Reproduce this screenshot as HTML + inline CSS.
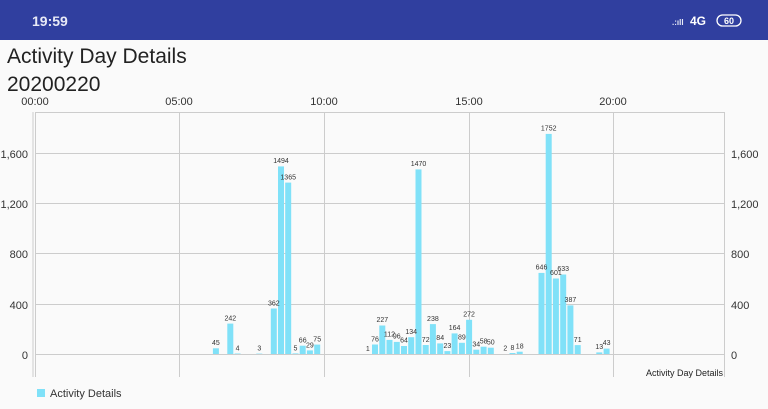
<!DOCTYPE html><html><head><meta charset="utf-8"><style>
body{margin:0;width:768px;height:404px;background:#fafafa;overflow:hidden;font-family:"Liberation Sans",sans-serif}
</style></head><body>
<svg width="768" height="404" xmlns="http://www.w3.org/2000/svg" font-family="Liberation Sans, sans-serif">
<rect width="768" height="404" fill="#fafafa"/>
<rect width="768" height="40" fill="#303f9f"/>
<text x="32" y="26" fill="#e8eaf6" font-size="14" font-weight="bold">19:59</text>
<text x="672" y="25" fill="#e8eaf6" font-size="8" font-weight="bold">.:ıll</text>
<text x="690" y="25" fill="#fff" font-size="12" font-weight="bold">4G</text>
<rect x="717" y="15" width="24" height="11" rx="5.5" fill="none" stroke="#fff" stroke-width="1.3"/>
<text x="729" y="24" fill="#fff" font-size="9" font-weight="bold" text-anchor="middle">60</text>
<text x="7" y="63" fill="#222" font-size="21">Activity Day Details</text>
<text x="7" y="91" fill="#222" font-size="21">20200220</text>
<g font-size="11" fill="#333" text-anchor="middle">
<text x="35" y="105">00:00</text><text x="179" y="105">05:00</text><text x="324" y="105">10:00</text><text x="469" y="105">15:00</text><text x="613" y="105">20:00</text>
</g>
<g stroke="#ccc" stroke-width="1">
<line x1="33" y1="112" x2="33" y2="377"/><line x1="35.5" y1="112" x2="35.5" y2="377"/>
<line x1="179.5" y1="112" x2="179.5" y2="377"/><line x1="324.5" y1="112" x2="324.5" y2="377"/>
<line x1="469.5" y1="112" x2="469.5" y2="377"/><line x1="613.5" y1="112" x2="613.5" y2="377"/>
<line x1="724.5" y1="112" x2="724.5" y2="377"/>
<line x1="35" y1="112.5" x2="724" y2="112.5"/>
<line x1="35" y1="153.5" x2="724" y2="153.5"/><line x1="35" y1="203.5" x2="724" y2="203.5"/>
<line x1="35" y1="253.5" x2="724" y2="253.5"/><line x1="35" y1="304.5" x2="724" y2="304.5"/>
<line x1="35" y1="354.5" x2="724" y2="354.5"/>
</g>
<g font-size="11" fill="#333">
<g text-anchor="end"><text x="28" y="158">1,600</text><text x="28" y="208">1,200</text><text x="28" y="258">800</text><text x="28" y="309">400</text><text x="28" y="359">0</text></g>
<text x="731" y="158">1,600</text><text x="731" y="208">1,200</text><text x="731" y="258">800</text><text x="731" y="309">400</text><text x="731" y="359">0</text>
</g>
<g fill="#80e1f8">
<rect x="212.9" y="348.3" width="6" height="5.7"/><rect x="227.3" y="323.6" width="6" height="30.4"/><rect x="234.6" y="353.5" width="6" height="0.5"/><rect x="256.3" y="353.6" width="6" height="0.4"/>
<rect x="270.8" y="308.5" width="6" height="45.5"/><rect x="278" y="166.4" width="6" height="187.6"/><rect x="285.2" y="182.6" width="6" height="171.4"/><rect x="292.5" y="353.4" width="6" height="0.6"/>
<rect x="299.7" y="345.7" width="6" height="8.3"/><rect x="306.9" y="350.4" width="6" height="3.6"/><rect x="314.2" y="344.6" width="6" height="9.4"/>
<rect x="372" y="344.5" width="6" height="9.5"/><rect x="379.3" y="325.5" width="6" height="28.5"/><rect x="386.5" y="339.9" width="6" height="14.1"/><rect x="393.8" y="341.9" width="6" height="12.1"/>
<rect x="401" y="346" width="6" height="8"/><rect x="408.2" y="337.2" width="6" height="16.8"/><rect x="415.5" y="169.4" width="6" height="184.6"/><rect x="422.7" y="345" width="6" height="9"/>
<rect x="429.9" y="324.1" width="6" height="29.9"/><rect x="437.2" y="343.4" width="6" height="10.6"/><rect x="444.4" y="351.1" width="6" height="2.9"/><rect x="451.6" y="333.4" width="6" height="20.6"/>
<rect x="458.9" y="342.8" width="6" height="11.2"/><rect x="466.1" y="319.8" width="6" height="34.2"/><rect x="473.3" y="349.7" width="6" height="4.3"/><rect x="480.6" y="346.7" width="6" height="7.3"/>
<rect x="487.8" y="347.7" width="6" height="6.3"/><rect x="509.5" y="353" width="6" height="1"/><rect x="516.7" y="351.7" width="6" height="2.3"/>
<rect x="538.5" y="272.9" width="6" height="81.1"/><rect x="545.7" y="133.9" width="6" height="220.1"/><rect x="552.9" y="278.5" width="6" height="75.5"/><rect x="560.2" y="274.5" width="6" height="79.5"/>
<rect x="567.4" y="305.4" width="6" height="48.6"/><rect x="574.7" y="345.1" width="6" height="8.9"/><rect x="596.3" y="352.4" width="6" height="1.6"/><rect x="603.6" y="348.6" width="6" height="5.4"/>
</g>
<g font-size="7" fill="#333" text-anchor="middle">
<text x="215.9" y="345">45</text><text x="230.3" y="320.5">242</text><text x="237.6" y="350.5">4</text><text x="259.3" y="350.5">3</text>
<text x="273.8" y="305.5">362</text><text x="281" y="163">1494</text><text x="288.2" y="179.5">1365</text><text x="295.5" y="350.5">5</text>
<text x="302.7" y="342.5">66</text><text x="309.9" y="347.5">29</text><text x="317.2" y="341.5">75</text>
<text x="367.8" y="351">1</text><text x="375" y="341.5">76</text><text x="382.3" y="322">227</text><text x="389.5" y="336.5">112</text><text x="396.8" y="338.5">96</text>
<text x="404" y="342.5">64</text><text x="411.2" y="334">134</text><text x="418.5" y="166">1470</text><text x="425.7" y="342">72</text>
<text x="432.9" y="321">238</text><text x="440.2" y="340">84</text><text x="447.4" y="348">23</text><text x="454.6" y="330">164</text>
<text x="461.9" y="339.5">89</text><text x="469.1" y="316.5">272</text><text x="476.3" y="346.5">34</text><text x="483.6" y="343.5">58</text>
<text x="490.8" y="344.5">50</text><text x="505.3" y="350.5">2</text><text x="512.5" y="350">8</text><text x="519.7" y="348.5">18</text>
<text x="541.5" y="269.5">646</text><text x="548.7" y="130.5">1752</text><text x="555.9" y="275">601</text><text x="563.2" y="271">633</text>
<text x="570.4" y="302">387</text><text x="577.7" y="342">71</text><text x="599.3" y="349">13</text><text x="606.6" y="345">43</text>
</g>
<text x="723" y="376" font-size="9" fill="#222" text-anchor="end">Activity Day Details</text>
<rect x="37" y="389" width="8" height="8" fill="#80e1f8"/>
<text x="50" y="397" font-size="11" fill="#333">Activity Details</text>
</svg>
</body></html>
